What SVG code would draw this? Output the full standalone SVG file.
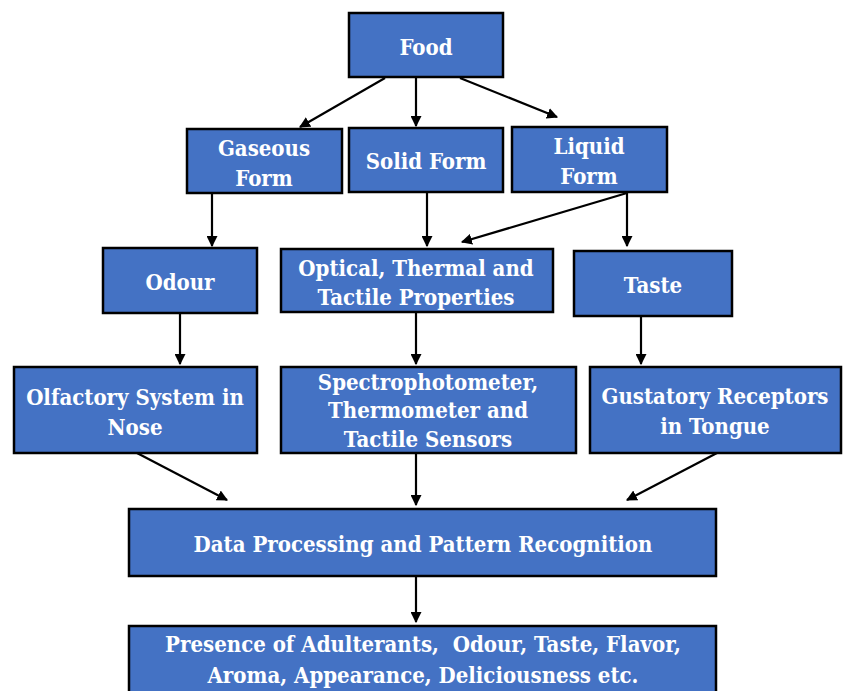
<svg xmlns="http://www.w3.org/2000/svg" width="843" height="691" viewBox="0 0 843 691">
<defs>
<marker id="ah" viewBox="0 0 10 10" refX="9" refY="5" markerWidth="5" markerHeight="5" orient="auto" markerUnits="strokeWidth">
<path d="M0,0 L10,5 L0,10 z" fill="#000"/>
</marker>
<style>
.box{fill:#4472C4;stroke:#000;stroke-width:2.5}
.t{font-family:"DejaVu Serif Condensed","DejaVu Serif",serif;font-stretch:condensed;font-weight:bold;font-size:22px;fill:#fff;text-anchor:middle}
.c{stroke:#000;stroke-width:2.2;fill:none;marker-end:url(#ah)}
</style>
</defs>
<rect width="843" height="691" fill="#fff"/>
<g id="connectors">
<line class="c" x1="385" y1="78" x2="300" y2="127"/>
<line class="c" x1="416" y1="78" x2="416" y2="126"/>
<line class="c" x1="460" y1="78" x2="557" y2="117"/>
<line class="c" x1="212" y1="193" x2="212" y2="246"/>
<line class="c" x1="427" y1="192" x2="427" y2="246"/>
<line class="c" x1="627" y1="193" x2="462" y2="242"/>
<line class="c" x1="627" y1="193" x2="627" y2="246"/>
<line class="c" x1="180" y1="313" x2="180" y2="364"/>
<line class="c" x1="416" y1="312" x2="416" y2="364"/>
<line class="c" x1="641" y1="316" x2="641" y2="364"/>
<line class="c" x1="137" y1="453" x2="227" y2="500"/>
<line class="c" x1="416" y1="453" x2="416" y2="505"/>
<line class="c" x1="717" y1="453" x2="627" y2="500"/>
<line class="c" x1="416" y1="576" x2="416" y2="622"/>
</g>
<g id="food"><rect class="box" x="349" y="13" width="154" height="64"/><text class="t" x="426" y="55">Food</text></g>
<g id="gaseous"><rect class="box" x="187" y="129" width="155" height="64"/><text class="t" x="264" y="156">Gaseous</text><text class="t" x="264" y="186">Form</text></g>
<g id="solid"><rect class="box" x="349" y="128" width="154" height="64"/><text class="t" x="426" y="169">Solid Form</text></g>
<g id="liquid"><rect class="box" x="512" y="127" width="155" height="65"/><text class="t" x="589" y="154">Liquid</text><text class="t" x="589" y="184">Form</text></g>
<g id="odour"><rect class="box" x="103" y="248" width="154" height="65"/><text class="t" x="180" y="290">Odour</text></g>
<g id="optical"><rect class="box" x="281" y="249" width="272" height="63"/><text class="t" x="416" y="276">Optical, Thermal and</text><text class="t" x="416" y="305">Tactile Properties</text></g>
<g id="taste"><rect class="box" x="574" y="251" width="158" height="65"/><text class="t" x="653" y="293">Taste</text></g>
<g id="olfactory"><rect class="box" x="14" y="367" width="243" height="86"/><text class="t" x="135" y="405">Olfactory System in</text><text class="t" x="135" y="435">Nose</text></g>
<g id="spectro"><rect class="box" x="281" y="367" width="295" height="86"/><text class="t" x="428" y="390">Spectrophotometer,</text><text class="t" x="428" y="418">Thermometer and</text><text class="t" x="428" y="447">Tactile Sensors</text></g>
<g id="gustatory"><rect class="box" x="590" y="367" width="251" height="86"/><text class="t" x="715" y="404">Gustatory Receptors</text><text class="t" x="715" y="434">in Tongue</text></g>
<g id="data"><rect class="box" x="129" y="509" width="587" height="67"/><text class="t" x="423" y="552">Data Processing and Pattern Recognition</text></g>
<g id="presence"><rect class="box" x="129" y="626" width="587" height="70"/><text class="t" x="423" y="652">Presence of Adulterants,&#160; Odour, Taste, Flavor,</text><text class="t" x="423" y="683">Aroma, Appearance, Deliciousness etc.</text></g>
</svg>
